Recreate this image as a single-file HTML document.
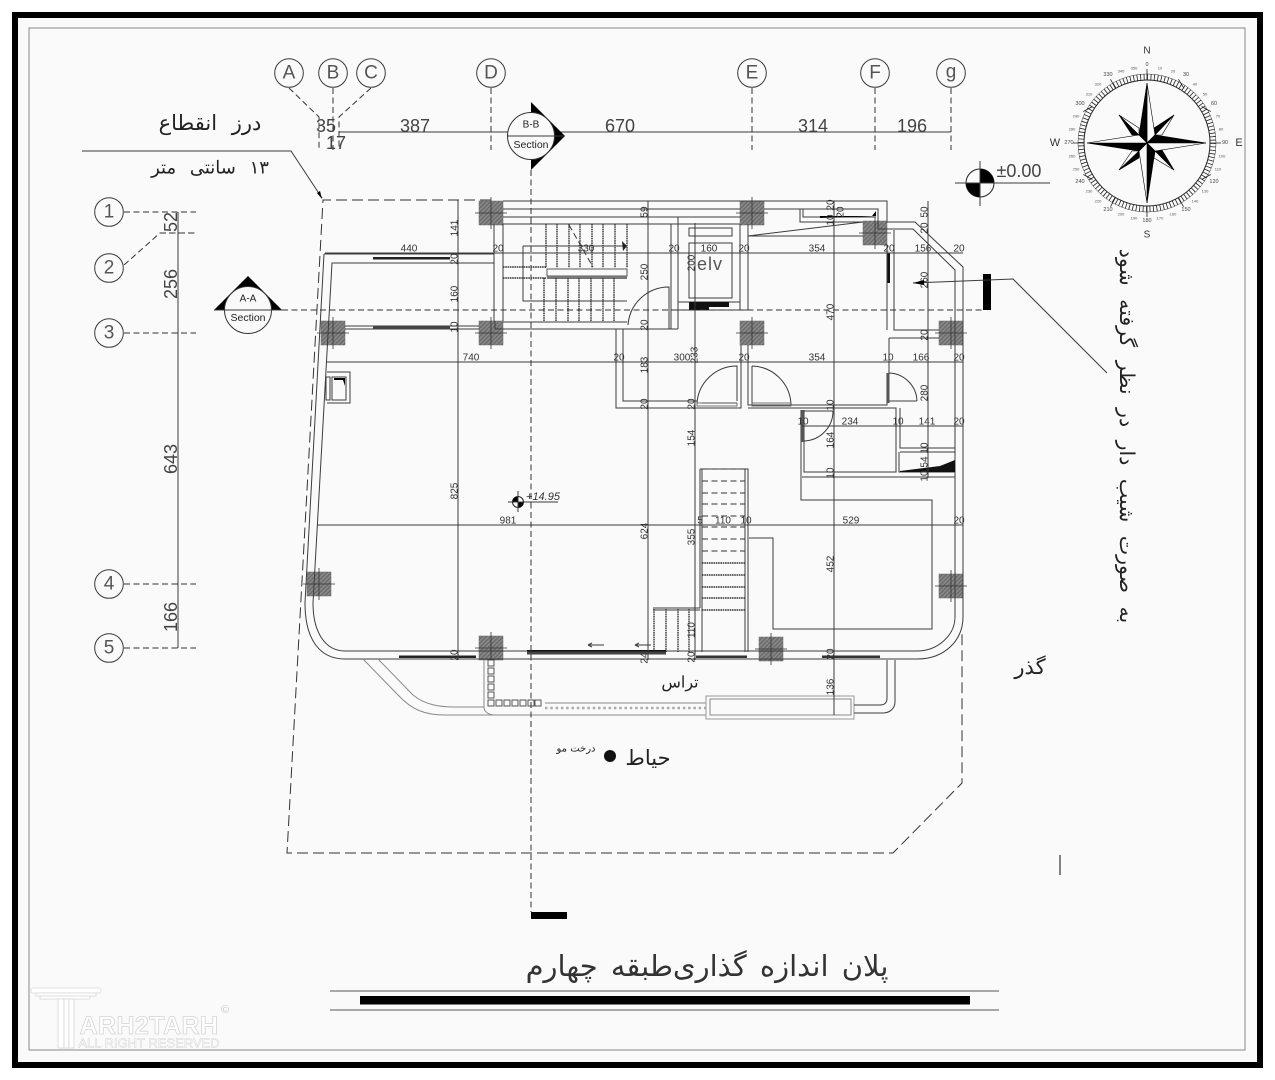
<!DOCTYPE html>
<html lang="fa">
<head>
<meta charset="utf-8">
<title>پلان اندازه گذاری طبقه چهارم</title>
<style>
html,body{margin:0;padding:0;background:#fff;width:1275px;height:1080px;overflow:hidden}
svg{display:block}
text{font-family:"Liberation Sans",sans-serif;fill:#333;text-anchor:middle;dominant-baseline:central}
.ar{font-family:"DejaVu Sans","Liberation Sans",sans-serif;fill:#222;direction:rtl;font-weight:200}
.d{font-size:10px}
.b{font-size:18px;fill:#444}
.c{font-size:19px;fill:#555}
.t5{font-size:5.5px;fill:#444}
.t4{font-size:4px;fill:#555}
.l{fill:none;stroke:#3a3a3a;stroke-width:1}
.w{fill:none;stroke:#3c3c3c;stroke-width:1}
.dash{fill:none;stroke:#333;stroke-width:1;stroke-dasharray:6 3.5}
.dot{fill:none;stroke:#333;stroke-width:1.4;stroke-dasharray:1.6 .7}
.g{fill:none;stroke:#8a8a8a;stroke-width:1}
</style>
</head>
<body>
<svg width="1275" height="1080" viewBox="0 0 1275 1080" xmlns="http://www.w3.org/2000/svg">
<defs>
<pattern id="h" width="3" height="3" patternUnits="userSpaceOnUse" patternTransform="rotate(45)">
<rect width="3" height="3" fill="#888"/><rect width="1.2" height="3" fill="#666"/>
</pattern>
<g id="col"><rect x="-12" y="-12" width="24" height="24" fill="url(#h)" stroke="#666" stroke-width=".5"/><path d="M-16 0H16M0-16V16" stroke="#333" stroke-width=".8"/></g>
</defs>

<rect x="15" y="15" width="1245" height="1050" fill="#fafafa" stroke="#000" stroke-width="6"/>
<rect x="29" y="28" width="1216" height="1022" fill="none" stroke="#888" stroke-width="1"/>

<!-- top grid -->
<g class="l">
<circle cx="289" cy="73" r="14.3"/><circle cx="333" cy="73" r="14.3"/><circle cx="371" cy="73" r="14.3"/><circle cx="491" cy="73" r="14.3"/><circle cx="752" cy="73" r="14.3"/><circle cx="875" cy="73" r="14.3"/><circle cx="951" cy="73" r="14.3"/>
<path d="M339 132H951"/>
</g>
<path class="dash" d="M289 88L319 117V150M333 88V150M371 88L339 117V150M491 88V150M752 88V150M875 88V150M951 88V150"/>
<text class="c" x="289" y="73">A</text><text class="c" x="333" y="73">B</text><text class="c" x="371" y="73">C</text><text class="c" x="491" y="73">D</text><text class="c" x="752" y="73">E</text><text class="c" x="875" y="73">F</text><text class="c" x="951" y="72">g</text>
<text class="b" x="326" y="126">35</text><text class="b" x="336" y="143">17</text><text class="b" x="415" y="126">387</text><text class="b" x="620" y="126">670</text><text class="b" x="813" y="126">314</text><text class="b" x="912" y="126">196</text>

<!-- left grid -->
<g class="l">
<circle cx="109" cy="212" r="14.3"/><circle cx="109" cy="268" r="14.3"/><circle cx="109" cy="333" r="14.3"/><circle cx="109" cy="584" r="14.3"/><circle cx="109" cy="648" r="14.3"/>
<path d="M178 212V648"/>
</g>
<path class="dash" d="M124 212H196M160 233H196L160 233L124 265M124 333H196M124 584H196M124 648H196"/>
<text class="c" x="109" y="212">1</text><text class="c" x="109" y="268">2</text><text class="c" x="109" y="333">3</text><text class="c" x="109" y="584">4</text><text class="c" x="109" y="648">5</text>
<text class="b" transform="rotate(-90 171 222)" x="171" y="222">52</text>
<text class="b" transform="rotate(-90 171 284)" x="171" y="284">256</text>
<text class="b" transform="rotate(-90 171 459)" x="171" y="459">643</text>
<text class="b" transform="rotate(-90 171 617)" x="171" y="617">166</text>

<!-- dashed lot boundary -->
<path d="M491 200H323L287 853H893L962 783V630" fill="none" stroke="#333" stroke-width="1" stroke-dasharray="11 5"/>

<!-- leader of joint -->
<path class="l" d="M82 151H291L322 198"/>
<path d="M322 199L317 193L320 191Z" fill="#000"/>

<!-- columns -->
<use href="#col" x="491" y="213"/><use href="#col" x="333" y="333"/><use href="#col" x="491" y="333"/><use href="#col" x="752" y="213"/><use href="#col" x="752" y="333"/><use href="#col" x="875" y="233"/><use href="#col" x="951" y="333"/><use href="#col" x="951" y="586"/><use href="#col" x="771" y="649"/><use href="#col" x="319" y="584"/><use href="#col" x="491" y="648"/>

<!-- outer walls -->
<path class="w" d="M324 254L305 603C305 640 320 659 345 659H917C945 659 963 640 963 617V267L915 222H887V201H503"/>
<path class="w" d="M494 263H332L313 603C313 632 325 651 345 651H917C938 651 955 635 955 617V270L913 229H878"/>
<path class="w" d="M324 254H494V321M494 224V254M503 224V321"/>
<!-- top lines -->
<path class="w" d="M503 209H740M503 217H740M503 224H740"/>
<path class="w" d="M764 209H878V229M800 209V222H863M803 209V217H876M748 224V310M740 224V310M748 236H863M748 236L863 222"/>
<path d="M820 218L876 216V211L872 216L820 216Z" fill="#000"/>
<path class="w" d="M887 245V330M894 230V330H939M889 338H939M889 338V373"/>
<rect x="887.5" y="253" width="2.5" height="30" fill="#111"/>
<!-- row at y=326 -->
<path class="w" d="M345 326H479M345 329H479M503 322H627M495 329H678M495 321V329"/>
<rect x="373" y="326" width="77" height="3.5" fill="#444"/>
<rect x="373" y="257" width="77" height="2.5" fill="#222"/>

<!-- stair core -->
<path class="w" d="M523 246H627M523 246V301H627"/>
<rect x="547" y="269" width="80" height="7" fill="#fafafa" stroke="#555"/>
<rect x="547" y="276" width="80" height="3" fill="#777"/>
<path class="dot" d="M503 267H546M503 278H546M546 224V268M557 224V268M569 224V268M580 224V268M592 224V268M603 224V268M615 224V268M627 224V268M544 278V322M556 278V322M568 278V322M579 278V322M591 278V322M603 278V322M614 278V322"/>
<path class="dash" d="M569 225L593 267" stroke-dasharray="4 3"/>
<path d="M622 241L627 246L623 251Z" fill="#222"/>
<!-- stair door -->
<path class="l" d="M669 329V287A41 41 0 0 0 628 325"/>
<path class="w" d="M671 224V329M678 217V329M627 224H671M678 217H740"/>
<!-- elevator -->
<path class="w" d="M678 302H740M678 310H748"/>
<rect x="689" y="228" width="43" height="8" class="w"/>
<rect x="689" y="243" width="43" height="55" class="w"/>
<rect x="689" y="302" width="20" height="8" fill="#111"/>
<rect x="709" y="302" width="20" height="5" fill="#111"/>
<text x="710" y="264" style="font-size:18px;fill:#555;letter-spacing:1px">elv</text>

<!-- middle rooms -->
<path class="w" d="M616 329V408H741V345M623 329V401H697M748 345V405H887V373M748 408H896V472H804V410M801 410V500H932V629H773V538H749"/>
<path class="w" d="M702 403H737M900 408V448H955M900 452H955M899 452V472H955M802 477H955M889 401H917M752 405V366"/>
<path class="l" d="M737 401V366A40 40 0 0 0 697 403"/>
<path class="l" d="M752 366A40 40 0 0 1 791 405"/>
<path class="l" d="M889 373A29 29 0 0 1 917 401"/>
<rect x="887" y="373" width="2.5" height="30" fill="#555"/>
<path class="l" d="M804 441A30 30 0 0 0 833 411H804"/>
<rect x="801" y="410" width="3" height="32" fill="#555"/>
<path d="M900 471L940 466L955 460V472H900Z" fill="#111"/>
<rect x="697" y="403" width="40" height="3" fill="none" stroke="#555" stroke-width=".8"/>
<rect x="752" y="403" width="39" height="3" fill="none" stroke="#555" stroke-width=".8"/>

<!-- main stair -->
<path class="w" d="M700 469H748V652M700 469V608M702 469V652M745 469V652M653 608H700M653 610H700"/>
<path class="dash" d="M702 469H748M702 481H745M702 493H745M702 504H745M702 516H745M702 527H745M702 539H745M702 551H745" stroke-dasharray="5 2.5"/>
<path class="dot" d="M702 563H745M702 575H745M702 587H745M702 598H745M702 610H745"/>
<path class="dot" d="M654 609V652M666 609V652M678 609V652M689 609V652"/>
<path class="w" d="M695 609V652"/>

<!-- bottom windows -->
<rect x="399" y="655.5" width="77" height="2.5" fill="#222"/>
<rect x="527" y="650" width="139" height="4.5" fill="#444"/>
<rect x="527" y="650" width="139" height="1.5" fill="#111"/>
<rect x="696" y="655.5" width="51" height="2.5" fill="#333"/>
<rect x="822" y="655.5" width="58" height="2.5" fill="#333"/>
<path class="l" d="M588 645H604M588 645L592 643M588 645L592 647M635 645H651M635 645L639 643M635 645L639 647"/>

<!-- small window -->
<path class="w" d="M327 372H350V403H327"/>
<rect x="332" y="377" width="14" height="23" class="w"/>
<rect x="326" y="377" width="4" height="23" class="l"/>
<path d="M334 378H345V386L343 380H334Z" fill="#000"/>

<!-- terrace -->
<path class="g" d="M363 659L398 695C412 710 425 715 445 715H706M378 659L413 695C425 705 440 707 455 707H484M484 660V707C484 712 489 715 495 715M545 703H706"/>
<path d="M545 708H706" fill="none" stroke="#aaa" stroke-width="2.5" stroke-dasharray="2.5 2.8"/>
<rect x="706" y="696" width="148" height="23" fill="none" stroke="#999" stroke-width="1"/>
<rect x="710" y="699" width="141" height="16" fill="none" stroke="#888" stroke-width="1"/>
<path class="w" d="M854 705H880C885 705 887 702 887 698V660M854 713H883C890 713 895 708 895 702V660"/>
<g fill="#fafafa" stroke="#444" stroke-width=".9">
<rect x="488" y="660" width="6" height="6"/><rect x="488" y="668" width="6" height="6"/><rect x="488" y="676" width="6" height="6"/><rect x="488" y="684" width="6" height="6"/><rect x="488" y="692" width="6" height="6"/><rect x="488" y="700" width="6" height="6"/><rect x="496" y="700" width="6" height="6"/><rect x="504" y="700" width="6" height="6"/><rect x="512" y="700" width="6" height="6"/><rect x="520" y="700" width="6" height="6"/><rect x="528" y="700" width="6" height="6"/><rect x="535" y="700" width="6" height="6"/>
</g>

<!-- dimension lines -->
<path class="l" d="M325 253H963M327 362H963M802 426H963M317 525H963M458 200V660M648 201V660M695 223V660M834 201V715M928 201V478"/>
<g>
<text class="d" x="409" y="249">440</text><text class="d" x="498" y="249">20</text><text class="d" x="586" y="249">330</text><text class="d" x="674" y="249">20</text><text class="d" x="709" y="249">160</text><text class="d" x="744" y="249">20</text><text class="d" x="817" y="249">354</text><text class="d" x="889" y="249">20</text><text class="d" x="923" y="249">156</text><text class="d" x="959" y="249">20</text>
<text class="d" x="471" y="358">740</text><text class="d" x="619" y="358">20</text><text class="d" x="682" y="358">300</text><text class="d" x="744" y="358">20</text><text class="d" x="817" y="358">354</text><text class="d" x="888" y="358">10</text><text class="d" x="921" y="358">166</text><text class="d" x="959" y="358">20</text>
<text class="d" x="803" y="422">10</text><text class="d" x="850" y="422">234</text><text class="d" x="898" y="422">10</text><text class="d" x="927" y="422">141</text><text class="d" x="959" y="422">20</text>
<text class="d" x="508" y="521">981</text><text class="d" x="700" y="521">5</text><text class="d" x="723" y="521">110</text><text class="d" x="746" y="521">10</text><text class="d" x="851" y="521">529</text><text class="d" x="959" y="521">20</text>
<text class="d" transform="rotate(-90 455 228)" x="455" y="228">141</text><text class="d" transform="rotate(-90 455 259)" x="455" y="259">20</text><text class="d" transform="rotate(-90 455 294)" x="455" y="294">160</text><text class="d" transform="rotate(-90 455 327)" x="455" y="327">10</text><text class="d" transform="rotate(-90 455 491)" x="455" y="491">825</text><text class="d" transform="rotate(-90 455 655)" x="455" y="655">20</text>
<text class="d" transform="rotate(-90 645 212)" x="645" y="212">59</text><text class="d" transform="rotate(-90 645 272)" x="645" y="272">250</text><text class="d" transform="rotate(-90 645 325)" x="645" y="325">20</text><text class="d" transform="rotate(-90 645 365)" x="645" y="365">183</text><text class="d" transform="rotate(-90 645 404)" x="645" y="404">20</text><text class="d" transform="rotate(-90 645 531)" x="645" y="531">624</text><text class="d" transform="rotate(-90 645 658)" x="645" y="658">24</text>
<text class="d" transform="rotate(-90 692 263)" x="692" y="263">200</text><text class="d" transform="rotate(-90 695 355)" x="695" y="355">233</text><text class="d" transform="rotate(-90 692 404)" x="692" y="404">20</text><text class="d" transform="rotate(-90 692 438)" x="692" y="438">154</text><text class="d" transform="rotate(-90 692 537)" x="692" y="537">355</text><text class="d" transform="rotate(-90 692 630)" x="692" y="630">110</text><text class="d" transform="rotate(-90 692 657)" x="692" y="657">20</text>
<text class="d" transform="rotate(-90 831 205)" x="831" y="205">20</text><text class="d" transform="rotate(-90 831 220)" x="831" y="220">10</text><text class="d" transform="rotate(-90 841 212)" x="841" y="212">20</text><text class="d" transform="rotate(-90 831 312)" x="831" y="312">470</text><text class="d" transform="rotate(-90 831 405)" x="831" y="405">10</text><text class="d" transform="rotate(-90 831 440)" x="831" y="440">164</text><text class="d" transform="rotate(-90 831 473)" x="831" y="473">10</text><text class="d" transform="rotate(-90 831 564)" x="831" y="564">452</text><text class="d" transform="rotate(-90 831 654)" x="831" y="654">20</text><text class="d" transform="rotate(-90 831 687)" x="831" y="687">136</text>
<text class="d" transform="rotate(-90 925 212)" x="925" y="212">50</text><text class="d" transform="rotate(-90 925 228)" x="925" y="228">20</text><text class="d" transform="rotate(-90 925 280)" x="925" y="280">260</text><text class="d" transform="rotate(-90 925 335)" x="925" y="335">20</text><text class="d" transform="rotate(-90 925 393)" x="925" y="393">280</text><text class="d" transform="rotate(-90 925 448)" x="925" y="448">10</text><text class="d" transform="rotate(-90 925 462)" x="925" y="462">54</text><text class="d" transform="rotate(-90 925 476)" x="925" y="476">10</text>
</g>

<!-- section lines -->
<path class="dash" d="M282 310H983" stroke-dasharray="7 3.5"/>
<path class="dash" d="M531 170V912" stroke-dasharray="7 3.5"/>
<rect x="983" y="274" width="8" height="36" fill="#000"/>
<rect x="531" y="912" width="36" height="7" fill="#000"/>
<path class="l" d="M913 283L1013 279L1107 373"/>
<path d="M913 283L924 280V285Z" fill="#000"/>
<!-- B-B -->
<path d="M531 102L565 136L531 170Z" fill="#000"/>
<circle cx="531" cy="136" r="23.5" fill="#fafafa" stroke="#333"/>
<path class="l" d="M508 136H565"/>
<text x="531" y="125" style="font-size:10px;fill:#222">B-B</text>
<text x="531" y="145" style="font-size:10.5px;fill:#222">Section</text>
<!-- A-A -->
<path d="M214 310L248 276L282 310Z" fill="#000"/>
<circle cx="248" cy="310" r="23.5" fill="#fafafa" stroke="#333"/>
<path class="l" d="M214 310H282"/>
<text x="248" y="299" style="font-size:10px;fill:#222">A-A</text>
<text x="248" y="318" style="font-size:10.5px;fill:#222">Section</text>

<!-- level marks -->
<circle cx="980" cy="183" r="14" fill="#fafafa" stroke="#222"/>
<path d="M980 183V169A14 14 0 0 1 994 183ZM980 183V197A14 14 0 0 1 966 183Z" fill="#000"/>
<path class="l" d="M955 183H1050M980 161V206"/>
<text x="1019" y="171" style="font-size:18px;fill:#444">±0.00</text>
<circle cx="518" cy="502" r="5.5" fill="#fafafa" stroke="#222"/>
<path d="M518 502V496.5A5.5 5.5 0 0 0 512.5 502ZM518 502V507.5A5.5 5.5 0 0 0 523.5 502Z" fill="#000"/>
<path class="l" d="M508 502H558M518 491V512"/>
<text x="543" y="497" style="font-size:11px;font-style:italic;fill:#333">+14.95</text>

<!-- compass -->
<g transform="translate(1147 143)">
<circle r="63" fill="none" stroke="#222" stroke-width="1"/>
<circle r="66" fill="none" stroke="#222" stroke-width="6" stroke-dasharray=".8 2.656"/>
<circle r="69" fill="none" stroke="#333" stroke-width=".5"/>
<path d="M0-63V-74M37-54.6L31.5-63.7M54.6-36.5L63.7-31.5M63 0H74M54.6 36.5L63.7 31.5M31.5 54.6L36.5 63.7M0 63V74M-31.5 54.6L-36.5 63.7M-54.6 36.5L-63.7 31.5M-63 0H-74M-54.6-36.5L-63.7-31.5M-31.5-54.6L-36.5-63.7" stroke="#222" stroke-width=".8"/>
<g stroke="#000" stroke-width=".6">
<path d="M27-28L7-15L8-8Z" fill="#000"/><path d="M27-28L15-8H8Z" fill="#fafafa"/>
<path d="M27 27L15 7L8 8Z" fill="#000"/><path d="M27 27L7 15L8 8Z" fill="#fafafa"/>
<path d="M-28 27L-8 15L-8 8Z" fill="#000"/><path d="M-28 27L-15 8H-8Z" fill="#fafafa"/>
<path d="M-28-28L-15-8H-8Z" fill="#000"/><path d="M-28-28L-8-15V-8Z" fill="#fafafa"/>
<path d="M0-60L8-8L0 0Z" fill="#fafafa"/><path d="M0-60L-8-8L0 0Z" fill="#000"/>
<path d="M59 0L8-8L0 0Z" fill="#000"/><path d="M59 0L8 8L0 0Z" fill="#fafafa"/>
<path d="M0 60L8 8L0 0Z" fill="#000"/><path d="M0 60L-8 8L0 0Z" fill="#fafafa"/>
<path d="M-60 0L-8 8L0 0Z" fill="#000"/><path d="M-60 0L-8-8L0 0Z" fill="#fafafa"/>
</g>
</g>
<text x="1147" y="51" style="font-size:10px">N</text><text x="1147" y="235" style="font-size:10px">S</text><text x="1055" y="143" style="font-size:11px">W</text><text x="1239" y="143" style="font-size:11px">E</text>
<text class="t5" x="1147" y="65">0</text><text class="t4" x="1160" y="68">10</text><text class="t4" x="1173" y="71">20</text><text class="t5" x="1186" y="75">30</text><text class="t4" x="1195" y="84">40</text><text class="t4" x="1205" y="94">50</text><text class="t5" x="1214" y="104">60</text><text class="t4" x="1218" y="116">70</text><text class="t4" x="1221" y="129">80</text><text class="t5" x="1225" y="143">90</text><text class="t4" x="1222" y="156">100</text><text class="t4" x="1218" y="169">110</text><text class="t5" x="1214" y="182">120</text><text class="t4" x="1205" y="191">130</text><text class="t4" x="1195" y="201">140</text><text class="t5" x="1186" y="210">150</text><text class="t4" x="1173" y="214">160</text><text class="t4" x="1160" y="218">170</text><text class="t5" x="1147" y="221">180</text><text class="t4" x="1134" y="218">190</text><text class="t4" x="1121" y="214">200</text><text class="t5" x="1108" y="210">210</text><text class="t4" x="1098" y="201">220</text><text class="t4" x="1089" y="191">230</text><text class="t5" x="1080" y="182">240</text><text class="t4" x="1076" y="169">250</text><text class="t4" x="1072" y="156">260</text><text class="t5" x="1069" y="143">270</text><text class="t4" x="1072" y="129">280</text><text class="t4" x="1076" y="116">290</text><text class="t5" x="1080" y="104">300</text><text class="t4" x="1089" y="94">310</text><text class="t4" x="1098" y="84">320</text><text class="t5" x="1108" y="75">330</text><text class="t4" x="1121" y="71">340</text><text class="t4" x="1134" y="68">350</text>

<!-- persian labels -->
<text class="ar" x="210" y="123" style="font-size:21px;word-spacing:8px">درز انقطاع</text>
<text class="ar" x="210" y="168" style="font-size:18px;word-spacing:8px">۱۳ سانتی متر</text>
<text class="ar" transform="rotate(90 1127 436)" x="1127" y="436" style="font-size:20.5px;word-spacing:7px">به صورت شیب دار در نظر گرفته شود</text>
<text class="ar" x="1030" y="667" style="font-size:21px">گذر</text>
<text class="ar" x="680" y="682" style="font-size:16px">تراس</text>
<text class="ar" x="648" y="758" style="font-size:21px">حیاط</text>
<text class="ar" x="576" y="749" style="font-size:10px">درخت مو</text>
<circle cx="610" cy="756" r="6" fill="#111"/>
<path d="M1060 855V875" stroke="#333" stroke-width="1.2"/>

<!-- title -->
<text class="ar" x="707" y="966" style="font-size:29px;word-spacing:4px;fill:#333">پلان اندازه گذاری‌طبقه چهارم</text>
<path d="M330 991H999" stroke="#555" stroke-width="1"/>
<rect x="360" y="996" width="610" height="8.5" fill="#000"/>
<path d="M330 1010H999" stroke="#777" stroke-width="1.2"/>

<!-- watermark -->
<g fill="#fff" stroke="#d8d8d8" stroke-width=".8">
<rect x="31" y="988" width="70" height="5" rx="2"/>
<rect x="36" y="993" width="60" height="3"/>
<rect x="40" y="996" width="50" height="3"/>
<rect x="58" y="999" width="6" height="49"/><rect x="64" y="999" width="5" height="49"/><rect x="69" y="999" width="5" height="49"/>
</g>
<text x="149" y="1026" style="font-size:25px;fill:#fff;stroke:#d4d4d4;stroke-width:.8;font-weight:bold;letter-spacing:.4px">ARH2TARH</text>
<text x="149" y="1043" style="font-size:13px;fill:#fff;stroke:#d4d4d4;stroke-width:.5">ALL RIGHT RESERVED</text>
<text x="225" y="1010" style="font-size:11px;fill:#ccc">©</text>
</svg>
</body>
</html>
